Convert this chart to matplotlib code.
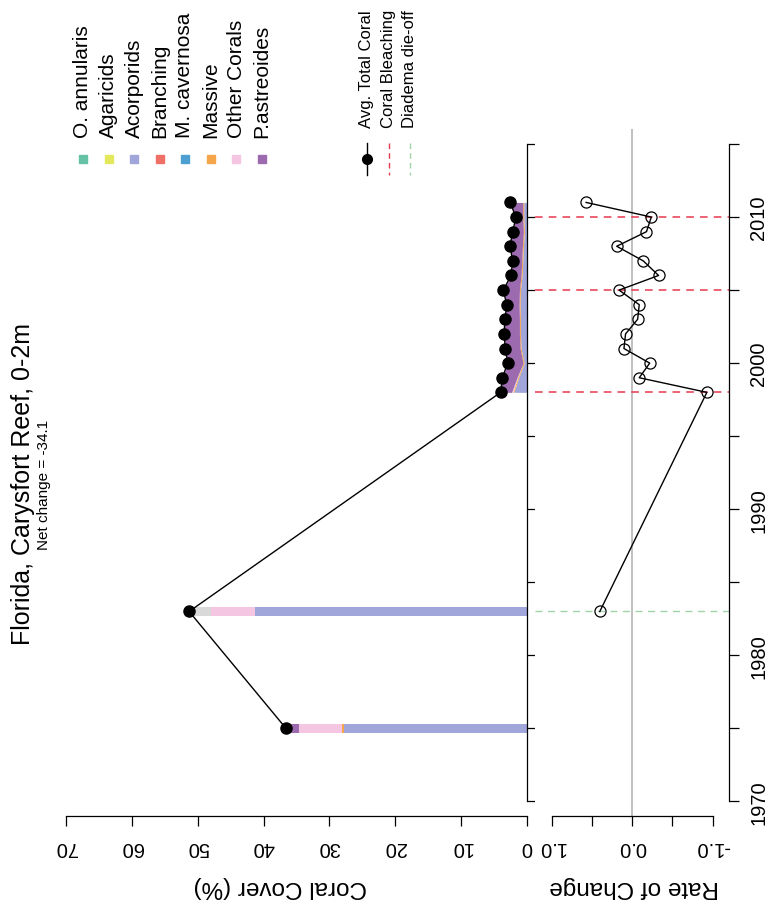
import matplotlib
matplotlib.use("Agg")
import matplotlib.pyplot as plt
import numpy as np

plt.rcParams['font.family'] = ['Liberation Sans', 'DejaVu Sans']

# data
years = [1975, 1983, 1998, 1999, 2000, 2001, 2002, 2003, 2004, 2005,
         2006, 2007, 2008, 2009, 2010, 2011]
o_annularis = [0, 0, 0, 0, 0, 0, 0, 0, 0, 0, 0, 0, 0, 0, 0, 0]
agaricids = [0, 0, 0, 0, 0, 0, 0, 0, 0, 0, 0, 0, 0, 0, 0, 0]
acorporids = [27.8, 41.3, 2.0, 1.27, 0.45, 0.9, 1.0, 1.0, 1.05, 1.0,
              0.75, 0.65, 0.55, 0.4, 0.5, 0.5]
branching = [0, 0, 0, 0, 0, 0, 0, 0, 0, 0, 0, 0, 0, 0, 0, 0]
m_cavernosa = [0, 0, 0, 0, 0, 0, 0, 0, 0, 0, 0, 0, 0, 0, 0, 0]
massive = [0.3, 0, 0.15, 0.15, 0.15, 0.15, 0.15, 0.15, 0.15, 0.15,
           0.15, 0.15, 0.15, 0.15, 0.15, 0.15]
other_corals = [6.5, 6.7, 0.2, 0.1, 0, 0, 0, 0, 0, 0, 0, 0, 0, 0, 0, 0]
unlisted = [0, 2.9, 0, 0, 0, 0, 0, 0, 0, 0, 0, 0, 0, 0, 0, 0]
p_astreoides = [2.0, 0.4, 1.65, 2.22, 2.34, 2.24, 2.34, 2.19, 1.89, 2.44,
                1.53, 1.38, 1.88, 1.63, 1.02, 1.93]
avg_total = [36.6, 51.3, 4.0, 3.74, 2.94, 3.29, 3.49, 3.34, 3.09, 3.59,
             2.43, 2.18, 2.58, 2.18, 1.67, 2.58]

rate_years = [1983, 1998, 1999, 2000, 2001, 2002, 2003, 2004, 2005,
              2006, 2007, 2008, 2009, 2010, 2011]
rate = [0.40, -0.93, -0.09, -0.22, 0.10, 0.08, -0.07, -0.09, 0.16,
        -0.33, -0.14, 0.19, -0.18, -0.24, 0.57]

bleaching_years = [1998, 2005, 2010]
diadema_years = [1983]

group_names = ["O. annularis", "Agaricids", "Acorporids", "Branching",
               "M. cavernosa", "Massive", "Other Corals", "P.astreoides"]
group_colors = ["#66c2a5", "#e3e85c", "#a0a6da", "#f07068",
                "#4c9fd0", "#f5a54a", "#f5c6e2", "#9c6aae"]
unlisted_color = "#d9d9d9"

W, H = 771, 903
fig = plt.figure(figsize=(W / 100, H / 100), dpi=100)


def box(x0, y0, x1, y1):
    return [x0 / W, 1 - y1 / H, (x1 - x0) / W, (y1 - y0) / H]


ylims = (1969, 2016)
ax1 = fig.add_axes(box(66, 130.4, 527, 817))
ax2 = fig.add_axes(box(535.4, 130.4, 728.6, 817))

# stacked composition
stack = [o_annularis, agaricids, acorporids, branching, m_cavernosa,
         massive, other_corals, unlisted, p_astreoides]
colors = group_colors[:7] + [unlisted_color] + [group_colors[7]]
yrs = np.array(years)
base = np.zeros(len(years))
block = yrs >= 1998
for vals, col in zip(stack, colors):
    v = np.array(vals, dtype=float)
    # isolated surveys as thin bars
    ax1.barh(yrs[~block], v[~block], left=base[~block], height=0.6,
             color=col, edgecolor='none')
    # continuous surveys as stacked area
    ax1.fill_betweenx(yrs[block], base[block], base[block] + v[block],
                      color=col, linewidth=0)
    base = base + v

ax1.plot(avg_total, years, color='black', lw=1, marker='o', ms=8,
         zorder=5)

ax1.set_xlim(70, 0)
ax1.set_ylim(*ylims)
ax1.spines['top'].set_visible(False)
ax1.spines['left'].set_visible(False)
ax1.spines['right'].set_bounds(1970, 2015)
ax1.spines['bottom'].set_bounds(0, 70)
ax1.yaxis.tick_right()
ax1.set_yticks(range(1970, 2016, 5))
ax1.tick_params(axis='y', labelright=False, direction='out', length=7, width=0.9)
ax1.set_xticks(range(0, 71, 10))
ax1.tick_params(axis='x', direction='out', length=7, width=0.9, pad=8,
                labelsize=14.5)
plt.setp(ax1.get_xticklabels(), rotation=180)
for s in ax1.spines.values():
    s.set_linewidth(0.9)

# rate of change panel
ax2.axvline(0, color='#b5b5b5', lw=1.2, zorder=1)
for yr in bleaching_years:
    ax2.axhline(yr, color='#e8384f', lw=1.1, ls=(0, (5, 4)), zorder=2)
for yr in diadema_years:
    ax2.axhline(yr, color='#9fd3a8', lw=1.0, ls=(0, (5, 4)), zorder=2)
ax2.plot(rate, rate_years, color='black', lw=1, marker='o', ms=8,
         mfc='none', mec='black', mew=0.9, zorder=4)

ax2.set_xlim(1.2, -1.2)
ax2.set_ylim(*ylims)
ax2.spines['top'].set_visible(False)
ax2.spines['left'].set_visible(False)
ax2.spines['right'].set_bounds(1970, 2015)
ax2.spines['bottom'].set_bounds(-1, 1)
ax2.yaxis.tick_right()
ax2.set_yticks(range(1970, 2016, 10))
ax2.set_yticks(range(1975, 2016, 10), minor=True)
ax2.tick_params(axis='y', which='both', direction='out', length=7, width=0.9,
                pad=8, labelsize=14.5)
plt.setp(ax2.get_yticklabels(), rotation=90, va='center')
ax2.set_xticks([1, 0.5, 0, -0.5, -1])
ax2.set_xticklabels(["1.0", "", "0.0", "", "-1.0"])
ax2.tick_params(axis='x', direction='out', length=7, width=0.9, pad=8,
                labelsize=14.5)
plt.setp(ax2.get_xticklabels(), rotation=180)
for s in ax2.spines.values():
    s.set_linewidth(0.9)

# overlay in pixel coordinates for the texts and legend
ov = fig.add_axes([0, 0, 1, 1])
ov.set_xlim(0, W)
ov.set_ylim(H, 0)
ov.axis('off')

ov.text(280, 887, "Coral Cover (%)", rotation=180, ha='center', va='center',
        fontsize=17.5)
ov.text(634, 887, "Rate of Change", rotation=180, ha='center', va='center',
        fontsize=17.5)
ov.text(23, 645, "Florida, Carysfort Reef, 0-2m", rotation=90,
        ha='center', va='bottom', fontsize=18)
ov.text(44, 550, "Net change = -34.1", rotation=90, ha='center',
        va='bottom', fontsize=11)

for i, (name, col) in enumerate(zip(group_names, group_colors)):
    x = 83 + i * 25.5
    ov.plot([x], [160], marker='s', ms=6, color=col, ls='none')
    ov.text(x, 138, name, rotation=90, ha='center', va='bottom', fontsize=15)

line_items = ["Avg. Total Coral", "Coral Bleaching", "Diadema die-off"]
for i, name in enumerate(line_items):
    x = 367 + i * 21.5
    if i == 0:
        ov.plot([x, x], [144, 176], color='black', lw=1)
        ov.plot([x], [160], marker='o', ms=7, color='black')
    elif i == 1:
        ov.plot([x, x], [144, 176], color='#e8384f', lw=1, ls=(0, (4, 3)))
    else:
        ov.plot([x, x], [144, 176], color='#9fd3a8', lw=1, ls=(0, (4, 3)))
    ov.text(x, 128, name, rotation=90, ha='center', va='bottom', fontsize=12)

fig.savefig("out.png", dpi=100)
